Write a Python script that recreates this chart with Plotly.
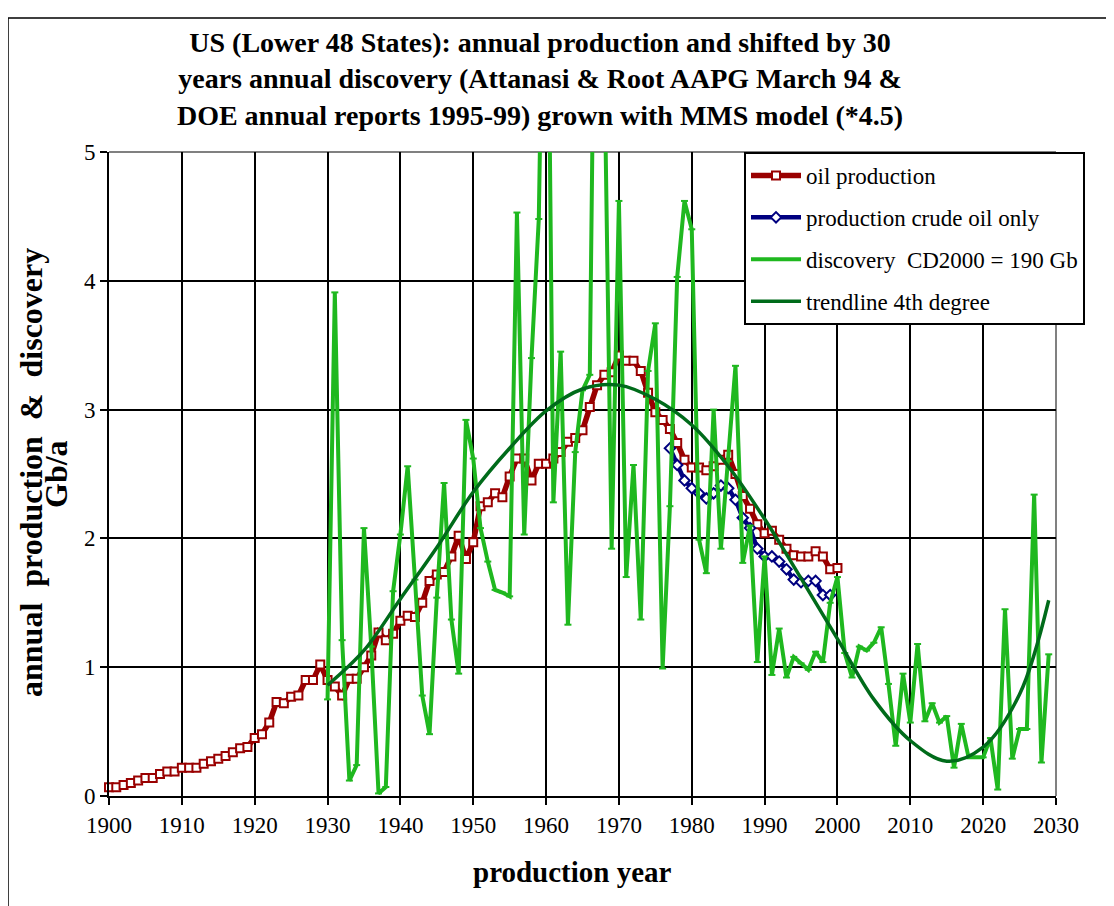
import plotly.graph_objects as go

# ---- data ----
prod_years = list(range(1900, 2001))
oil_production = [
    0.068, 0.068, 0.086, 0.10, 0.12, 0.14, 0.14, 0.17, 0.19, 0.19,
    0.22, 0.22, 0.22, 0.25, 0.27, 0.29, 0.31, 0.34, 0.37, 0.38,
    0.45, 0.48, 0.57, 0.73, 0.72, 0.77, 0.78, 0.90, 0.90, 1.02,
    0.90, 0.85, 0.78, 0.91, 0.91, 1.00, 1.09, 1.27, 1.21, 1.26,
    1.36, 1.40, 1.39, 1.50, 1.67, 1.72, 1.74, 1.86, 2.02, 1.84,
    1.97, 2.25, 2.28, 2.35, 2.32, 2.48, 2.62, 2.62, 2.45, 2.58,
    2.58, 2.62, 2.67, 2.75, 2.78, 2.84, 3.02, 3.19, 3.27, 3.29,
    3.42, 3.38, 3.38, 3.30, 3.13, 2.98, 2.92, 2.85, 2.74, 2.61,
    2.55, 2.55, 2.53, 2.56, 2.61, 2.65, 2.50, 2.33, 2.23, 2.11,
    2.04, 2.06, 1.99, 1.92, 1.87, 1.86, 1.86, 1.90, 1.86, 1.76,
    1.77,
]

crude_years = list(range(1977, 2000))
crude_only = [
    2.70, 2.57, 2.45, 2.39, 2.35, 2.31, 2.35, 2.41, 2.39, 2.30,
    2.16, 2.08, 1.92, 1.86, 1.86, 1.82, 1.76, 1.68, 1.66, 1.67,
    1.67, 1.56, 1.56,
]

disc_years = list(range(1930, 2030))
discovery = [
    0.75, 3.91, 1.21, 0.12, 0.24, 2.08, 1.16, 0.02, 0.07, 1.59,
    2.03, 2.56, 1.68, 0.78, 0.48, 1.54, 2.43, 1.37, 0.95, 2.92,
    2.62, 2.08, 1.82, 1.60, 1.58, 1.55, 4.53, 2.03, 3.40, 4.48,
    8.00, 2.28, 3.45, 1.33, 2.67, 3.15, 3.27, 8.30, 5.70, 1.92,
    4.62, 1.70, 2.57, 1.37, 3.30, 3.67, 0.99, 2.25, 4.03, 4.62,
    4.40, 1.99, 1.73, 3.00, 1.92, 2.60, 3.34, 1.81, 2.10, 1.04,
    1.86, 0.94, 1.30, 0.92, 1.08, 1.03, 0.98, 1.12, 1.04, 1.50,
    1.70, 1.11, 0.92, 1.16, 1.13, 1.19, 1.31, 0.87, 0.39, 0.95,
    0.57, 1.18, 0.58, 0.72, 0.57, 0.62, 0.22, 0.56, 0.30, 0.30,
    0.30, 0.45, 0.05, 1.45, 0.29, 0.52, 0.52, 2.34, 0.26, 1.10,
]

trend_years = [1930, 1935, 1940, 1945, 1950, 1955, 1960, 1965, 1970, 1975,
               1980, 1985, 1990, 1995, 2000, 2005, 2010, 2015, 2020, 2025, 2029]
trendline = [0.86, 1.13, 1.53, 1.93, 2.36, 2.70, 2.99, 3.16, 3.19, 3.08,
             2.88, 2.56, 2.15, 1.69, 1.22, 0.75, 0.43, 0.27, 0.38, 0.79, 1.52]

x_ticks = list(range(1900, 2031, 10))
y_ticks = [0, 1, 2, 3, 4, 5]

SERIF = "Liberation Serif, Times New Roman, serif"
RED = "#990000"
NAVY = "#000080"
LGREEN = "#1FB81F"
DGREEN = "#006B1A"

# page offset (browser body margin) is 8px; plot area spans page x 109..1056, y 152..796
PW, PH = 947, 644


def px_x(px):  # page x -> paper x
    return (px - 109) / PW


def px_y(py):  # page y -> paper y
    return (796 - py) / PH


fig = go.Figure()

fig.add_trace(go.Scatter(
    x=prod_years, y=oil_production, name="oil production",
    mode="lines+markers", legendgroup="a", cliponaxis=False,
    line=dict(color=RED, width=5.5),
    marker=dict(symbol="square", size=8, color="white",
                line=dict(color=RED, width=2)),
))
fig.add_trace(go.Scatter(
    x=crude_years, y=crude_only, name="production crude oil only",
    mode="lines+markers", legendgroup="b", cliponaxis=False,
    line=dict(color=NAVY, width=4.5),
    marker=dict(symbol="diamond", size=8, color="white",
                line=dict(color=NAVY, width=2)),
))
fig.add_trace(go.Scatter(
    x=disc_years, y=discovery, name="discovery\u00a0\u00a0CD2000 = 190 Gb",
    mode="lines+markers", legendgroup="c",
    line=dict(color=LGREEN, width=4),
    marker=dict(symbol="line-ew", size=5, color=LGREEN,
                line=dict(color=LGREEN, width=2)),
))
fig.add_trace(go.Scatter(
    x=trend_years, y=trendline, name="trendline 4th degree",
    mode="lines", legendgroup="d",
    line=dict(color=DGREEN, width=3.5, shape="spline", smoothing=1.0),
))

# gray top/right plot-area border (drawn between grid and traces)
fig.add_shape(type="line", xref="paper", yref="paper", x0=0, x1=1, y0=1, y1=1,
              line=dict(color="#808080", width=2), layer="between")
fig.add_shape(type="line", xref="paper", yref="paper", x0=1, x1=1, y0=0, y1=1,
              line=dict(color="#808080", width=2), layer="between")
# outer chart frame (left and top edges visible)
fig.add_shape(type="rect", xref="paper", yref="paper",
              x0=px_x(8), x1=px_x(1125), y0=px_y(915), y1=px_y(18),
              line=dict(color="black", width=1.5), layer="above")

# y axis title, two rotated lines
fig.add_annotation(
    xref="paper", yref="paper", x=px_x(31), y=px_y(473),
    text="<b>annual\u00a0\u00a0production\u00a0\u00a0&\u00a0\u00a0discovery</b>",
    textangle=-90, showarrow=False, xanchor="center", yanchor="middle",
    font=dict(family=SERIF, size=32, color="black"),
)
fig.add_annotation(
    xref="paper", yref="paper", x=px_x(56), y=px_y(474),
    text="<b>Gb/a</b>",
    textangle=-90, showarrow=False, xanchor="center", yanchor="middle",
    font=dict(family=SERIF, size=32, color="black"),
)
# x axis title
fig.add_annotation(
    xref="paper", yref="paper", x=px_x(572), y=px_y(872),
    text="<b>production year</b>", showarrow=False,
    xanchor="center", yanchor="middle",
    font=dict(family=SERIF, size=29, color="black"),
)

fig.update_layout(
    width=1114, height=906, autosize=False,
    margin=dict(l=101, r=66, t=144, b=118),
    paper_bgcolor="white", plot_bgcolor="white",
    title=dict(
        text="<b>US (Lower 48 States): annual production and shifted by 30<br>"
             "years annual discovery (Attanasi & Root AAPG March 94 &<br>"
             "DOE annual reports 1995-99) grown with MMS model (*4.5)</b>",
        x=532 / 1114, xanchor="center", xref="container",
        y=1 - 44 / 906, yanchor="middle", yref="container",
        font=dict(family=SERIF, size=28, color="black"),
    ),
    font=dict(family=SERIF, size=22, color="black"),
    legend=dict(
        x=px_x(744), y=1.0, xanchor="left", yanchor="top",
        bgcolor="white", bordercolor="black", borderwidth=2,
        font=dict(family=SERIF, size=23, color="black"),
        tracegroupgap=9, itemwidth=50,
        entrywidth=330, entrywidthmode="pixels",
    ),
    showlegend=True,
)

fig.update_xaxes(
    range=[1900, 2030], tickvals=x_ticks, ticktext=[str(v) for v in x_ticks],
    showgrid=True, gridcolor="black", gridwidth=2,
    showline=True, linecolor="black", linewidth=2,
    ticks="outside", ticklen=7, tickwidth=2, tickcolor="black",
    zeroline=False,
    tickfont=dict(family=SERIF, size=23, color="black"),
)
fig.update_yaxes(
    range=[0, 5], tickvals=y_ticks, ticktext=[str(v) for v in y_ticks],
    showgrid=True, gridcolor="black", gridwidth=2,
    showline=True, linecolor="black", linewidth=2,
    ticks="outside", ticklen=7, tickwidth=2, tickcolor="black",
    zeroline=False,
    tickfont=dict(family=SERIF, size=23, color="black"),
)

fig.write_html("out.html")
